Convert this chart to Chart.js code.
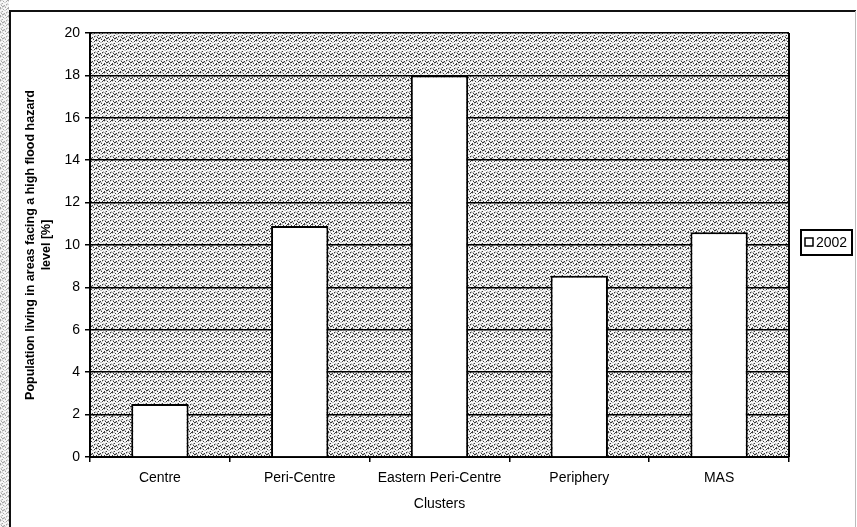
<!DOCTYPE html>
<html>
<head>
<meta charset="utf-8">
<script src="https://cdn.jsdelivr.net/npm/chart.js@4/dist/chart.umd.min.js"></script>
<style>
  html, body { margin: 0; padding: 0; background: #fff; }
  #wrap { width: 857px; height: 527px; position: relative; }
  canvas { display: block; }
</style>
</head>
<body>
<div id="wrap"><canvas id="c" width="857" height="527"></canvas></div>
<script>
// Share of population living in high flood hazard areas, by cluster (2002)
const clusters = ['Centre', 'Peri-Centre', 'Eastern Peri-Centre', 'Periphery', 'MAS'];
const share2002 = [2.5, 10.9, 18.0, 8.55, 10.6];
const seriesName = '2002';
const yTicks = [0, 2, 4, 6, 8, 10, 12, 14, 16, 18, 20];
const yTitle = ['Population living in areas facing a high flood hazard', 'level [%]'];
const xTitle = 'Clusters';

const FONT = "'Liberation Sans', Arial, sans-serif";

// Small repeating dot texture used for the plot background
function makeStipple(ctx, paper, dark, mid) {
  const p = document.createElement('canvas');
  p.width = 8; p.height = 8;
  const g = p.getContext('2d');
  g.fillStyle = paper; g.fillRect(0, 0, 8, 8);
  for (let i = 0; i < 8; i++) {
    for (let j = 0; j < 8; j++) {
      const v = (i * 5 + j * 3 + ((i * j) % 4)) % 7;
      if (v === 0) { g.fillStyle = dark; g.fillRect(i, j, 1, 1); }
      else if (v === 3 || v === 5) { g.fillStyle = mid; g.fillRect(i, j, 1, 1); }
    }
  }
  return ctx.createPattern(p, 'repeat');
}

const backdrop = {
  id: 'backdrop',
  beforeDraw(chart) {
    const { ctx, chartArea: a, width, height } = chart;
    ctx.save();
    ctx.fillStyle = '#fff';
    ctx.fillRect(0, 0, width, height);
    // speckled strip outside the frame on the left
    ctx.fillStyle = makeStipple(ctx, '#f6f6f6', '#a8a8a8', '#d6d6d6');
    ctx.fillRect(0, 0, 9, height);
    // plot area
    ctx.fillStyle = makeStipple(ctx, '#f7f7f7', '#3a3a3a', '#bdbdbd');
    ctx.fillRect(a.left, a.top, a.right - a.left, a.bottom - a.top);
    ctx.restore();
  },
  afterDatasetsDraw(chart) {
    const { ctx, chartArea: a } = chart;
    ctx.save();
    ctx.strokeStyle = '#000';
    ctx.lineWidth = 2;
    ctx.beginPath();
    ctx.moveTo(a.right, a.top);
    ctx.lineTo(a.right, a.bottom);
    ctx.stroke();
    ctx.restore();
  },
  afterDraw(chart) {
    const { ctx, width, height } = chart;
    ctx.save();
    // outer frame
    ctx.strokeStyle = '#111';
    ctx.lineWidth = 2;
    ctx.beginPath();
    ctx.moveTo(10, height);
    ctx.lineTo(10, 11);
    ctx.lineTo(width - 1, 11);
    ctx.stroke();
    ctx.strokeStyle = '#bbb';
    ctx.lineWidth = 1;
    ctx.beginPath();
    ctx.moveTo(width - 1.5, 11);
    ctx.lineTo(width - 1.5, height);
    ctx.stroke();

    // legend
    const ds = chart.data.datasets[0];
    const bx = 801, by = 230, bw = 51, bh = 25;
    ctx.fillStyle = '#fff';
    ctx.fillRect(bx, by, bw, bh);
    ctx.strokeStyle = '#000';
    ctx.lineWidth = 2;
    ctx.strokeRect(bx, by, bw, bh);
    ctx.lineWidth = 1.5;
    ctx.fillStyle = ds.backgroundColor;
    ctx.fillRect(805, 238, 8, 8);
    ctx.strokeRect(805, 238, 8, 8);
    ctx.fillStyle = '#000';
    ctx.font = '14px ' + FONT;
    ctx.textBaseline = 'middle';
    ctx.textAlign = 'left';
    ctx.fillText(ds.label, 816, by + bh / 2 + 0.5);
    ctx.restore();
  }
};

new Chart(document.getElementById('c'), {
  type: 'bar',
  data: {
    labels: clusters,
    datasets: [{
      label: seriesName,
      data: share2002,
      backgroundColor: '#ffffff',
      borderColor: '#000000',
      borderWidth: 2,
      borderSkipped: 'bottom',
      categoryPercentage: 1,
      barPercentage: 0.41
    }]
  },
  options: {
    responsive: false,
    animation: false,
    devicePixelRatio: 1,
    layout: { padding: { left: 12, right: 68, top: 33, bottom: 0 } },
    plugins: {
      legend: { display: false },
      tooltip: { enabled: false }
    },
    scales: {
      x: {
        grid: { offset: true, drawOnChartArea: false, drawTicks: true, tickLength: 5, color: '#000', lineWidth: 1.5 },
        border: { color: '#000', width: 2 },
        ticks: { color: '#000', font: { family: FONT, size: 14 }, padding: 8, maxRotation: 0, autoSkip: false },
        title: { display: true, text: xTitle, color: '#000', font: { family: FONT, size: 14 }, padding: { top: 0, bottom: 14 } },
        afterFit(s) { s.height = 70; }
      },
      y: {
        min: 0,
        max: 20,
        afterBuildTicks(s) { s.ticks = yTicks.map(v => ({ value: v })); },
        grid: { color: '#000', lineWidth: 1.5, tickLength: 5 },
        border: { color: '#000', width: 2 },
        ticks: { color: '#000', font: { family: FONT, size: 14 }, padding: 5 },
        title: { display: true, text: yTitle, color: '#000', font: { family: FONT, size: 12.5, weight: 'bold', lineHeight: 1.28 }, padding: { top: 11, bottom: 0 } },
        afterFit(s) { s.width = 78; }
      }
    }
  },
  plugins: [backdrop]
});
</script>
</body>
</html>
